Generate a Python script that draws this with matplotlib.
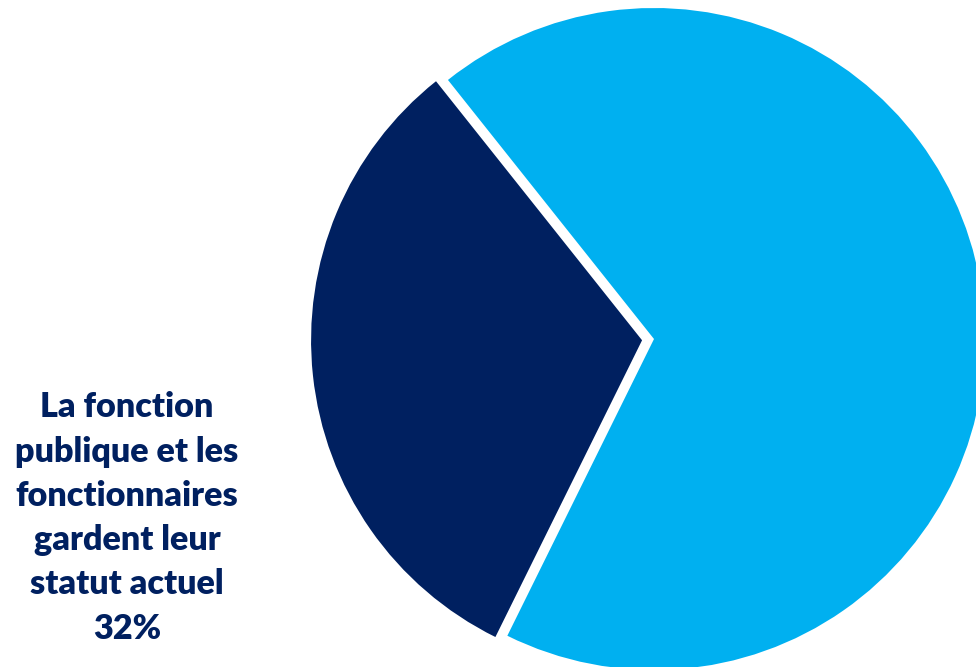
import matplotlib
matplotlib.use("Agg")
import matplotlib.pyplot as plt

labels = ["La fonction\npublique et les\nfonctionnaires\ngardent leur\nstatut actuel\n32%", ""]
values = [32, 68]
colors = ["#002060", "#00B0F0"]

W, H = 976, 667
fig = plt.figure(figsize=(W / 100, H / 100), dpi=100)
ax = fig.add_axes([0, 0, 1, 1])
ax.set_xlim(0, W)
ax.set_ylim(0, H)
ax.set_aspect("equal")
ax.axis("off")

R = 331
ax.pie(values, colors=colors, startangle=128.5, counterclock=True,
       center=(654, H - 339), radius=R, explode=[12, 0],
       wedgeprops=dict(linewidth=0))
ax.set_xlim(0, W)
ax.set_ylim(0, H)

ax.text(127, H - 518, labels[0], ha="center", va="center", color="#002060",
        fontsize=24.6, fontweight="heavy", family="Lato", linespacing=1.47)

fig.savefig("out.png", dpi=100)
